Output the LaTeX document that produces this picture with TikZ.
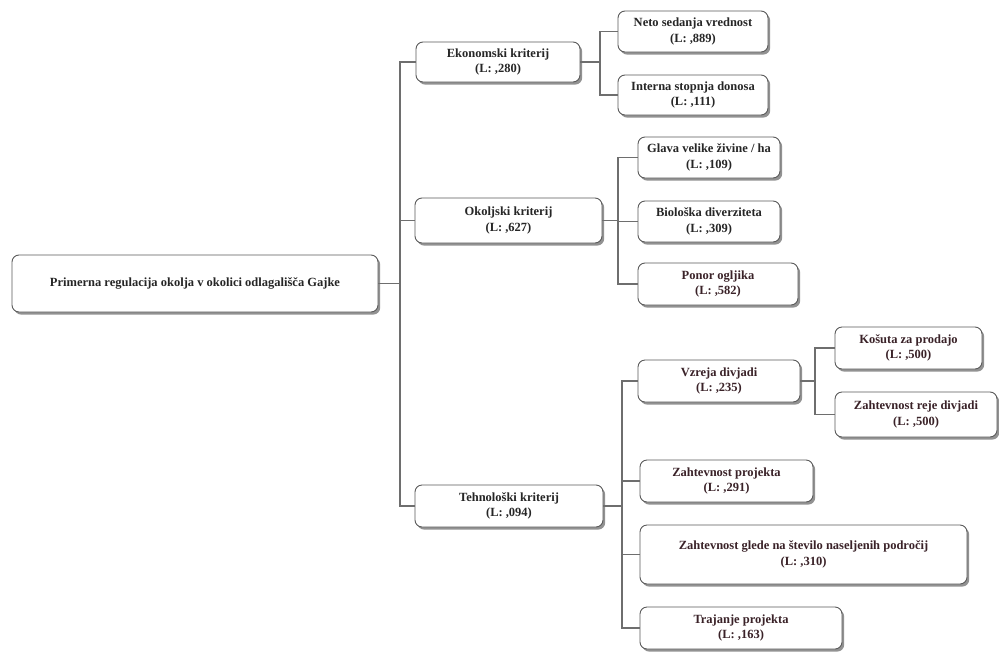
\documentclass[tikz,border=0pt]{standalone}
\usepackage{fontspec}
\setmainfont{Liberation Serif}
\usetikzlibrary{shadows}
\definecolor{boxline}{HTML}{5A5A5A}
\definecolor{wire}{HTML}{6E6E6E}
\definecolor{ink}{HTML}{262626}
\definecolor{inkred}{HTML}{3A2228}
\tikzset{
  crit/.style={draw=boxline, line width=0.9pt, fill=white, rounded corners=7pt,
    align=center, inner sep=2pt, text=ink,
    font=\fontsize{12.5}{15.5}\selectfont\bfseries,
    drop shadow={shadow xshift=2.2pt, shadow yshift=-2.6pt, fill=black!50, opacity=0.85}},
  wireline/.style={draw=wire, line width=1.1pt}
}
\newcommand{\critbox}[6]{%
  \node[crit, minimum width=#4pt, minimum height=#5pt] (#1) at (#2,#3) {#6};}
\begin{document}
\begin{tikzpicture}[x=1pt, y=-1pt]
\useasboundingbox[fill=white] (0,0) rectangle (999,651);

% root and the three main criteria
\critbox{root}{195}{283.5}{366}{57}{Primerna regulacija okolja v okolici odlagališča Gajke}
\critbox{ekon}{498}{62}{164}{40}{Ekonomski kriterij\\(L: ,280)}
\critbox{okol}{508.5}{220.5}{187}{45}{Okoljski kriterij\\(L: ,627)}
\critbox{tehn}{509}{506}{188}{42}{Tehnološki kriterij\\(L: ,094)}

% economic sub-criteria
\critbox{neto}{693}{31.5}{150}{41}{Neto sedanja vrednost\\(L: ,889)}
\critbox{interna}{693}{95}{150}{40}{Interna stopnja donosa\\(L: ,111)}

% environmental sub-criteria
\critbox{glava}{709}{157.5}{142}{41}{Glava velike živine / ha\\(L: ,109)}
\critbox{bio}{709}{221.5}{142}{41}{Biološka diverziteta\\(L: ,309)}
\critbox{ponor}{718}{284}{160}{42}{\color{inkred}Ponor ogljika\\\color{inkred}(L: ,582)}

% technological sub-criteria
\critbox{vzreja}{719}{381}{162}{42}{\color{inkred}Vzreja divjadi\\\color{inkred}(L: ,235)}
\critbox{kosuta}{908.5}{348}{147}{42}{\color{inkred}Košuta za prodajo\\\color{inkred}(L: ,500)}
\critbox{reje}{916}{414.5}{162}{45}{\color{inkred}Zahtevnost reje divjadi\\\color{inkred}(L: ,500)}
\critbox{zproj}{726.5}{481}{173}{42}{\color{inkred}Zahtevnost projekta\\\color{inkred}(L: ,291)}
\critbox{zglede}{803.5}{554.5}{327}{59}{\color{inkred}Zahtevnost glede na število naseljenih področij\\\color{inkred}(L: ,310)}
\critbox{traj}{741}{628}{202}{42}{\color{inkred}Trajanje projekta\\\color{inkred}(L: ,163)}

% bus points of the tree connectors
\coordinate (b0) at (400,283.5);
\coordinate (b1) at (600,62);
\coordinate (b2) at (618,220.5);
\coordinate (b3) at (622,506);
\coordinate (b4) at (815,381);

\begin{scope}[wireline]
\draw (root.east) -- (b0);
\draw (b0) |- (ekon.west);
\draw (b0) |- (okol.west);
\draw (b0) |- (tehn.west);

\draw (ekon.east) -- (b1);
\draw (b1) |- (neto.west);
\draw (b1) |- (interna.west);

\draw (okol.east) -- (b2);
\draw (b2) |- (glava.west);
\draw (b2) |- (bio.west);
\draw (b2) |- (ponor.west);

\draw (tehn.east) -- (b3);
\draw (b3) |- (vzreja.west);
\draw (b3) |- (zproj.west);
\draw (b3) |- (zglede.west);
\draw (b3) |- (traj.west);

\draw (vzreja.east) -- (b4);
\draw (b4) |- (kosuta.west);
\draw (b4) |- (reje.west);
\end{scope}
\end{tikzpicture}
\end{document}
